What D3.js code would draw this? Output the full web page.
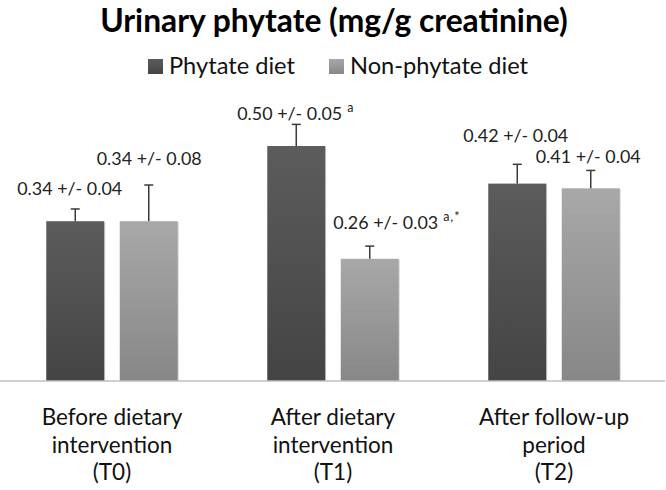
<!DOCTYPE html>
<html>
<head>
<meta charset="utf-8">
<script src="https://cdn.jsdelivr.net/npm/d3@7"></script>
<style>
  html, body { margin: 0; padding: 0; background: #fff; }
  svg { display: block; }
  text { font-family: Lato, "Open Sans", sans-serif; }
</style>
</head>
<body>
<svg id="chart" width="666" height="490"></svg>
<script>
// ---- data ----
const categories = [
  ["Before dietary", "intervention", "(T0)"],
  ["After dietary", "intervention", "(T1)"],
  ["After follow-up", "period", "(T2)"]
];
const seriesNames = ["Phytate diet", "Non-phytate diet"];
const phytateValues = [0.34, 0.50, 0.42];
const nonPhytateValues = [0.34, 0.26, 0.41];
const phytateErrors = [0.026, 0.046, 0.041];
const nonPhytateErrors = [0.077, 0.027, 0.038];
const phytateLabels = ["0.34 +/- 0.04", "0.50 +/- 0.05", "0.42 +/- 0.04"];
const nonPhytateLabels = ["0.34 +/- 0.08", "0.26 +/- 0.03", "0.41 +/- 0.04"];
const phytateSup = ["", "a", ""];
const nonPhytateSup = ["", "a,*", ""];
const yDomain = [0, 0.6];

// ---- layout (not data) ----
const baseY = 381, topY = 99;
const labelOffsets = [
  [[-58, 14], [-52, 20]],
  [[-59, 4], [-36.5, 17.5]],
  [[-54, 22.5], [-55, 7.5]]
];
const fills = ["dark", "light"];

const svg = d3.select("#chart");
const defs = svg.append("defs");
function grad(id, c1, c2) {
  const g = defs.append("linearGradient").attr("id", id)
    .attr("x1", 0).attr("y1", 0).attr("x2", 0).attr("y2", 1);
  g.append("stop").attr("offset", "0%").attr("stop-color", c1);
  g.append("stop").attr("offset", "100%").attr("stop-color", c2);
}
grad("dark", "#5c5c5c", "#444444");
grad("light", "#a8a8a8", "#878787");

function fitSize(str, target, weight) {
  const t = svg.append("text").attr("font-size", 20).attr("font-weight", weight || 400).text(str);
  const w = t.node().getComputedTextLength();
  t.remove();
  return 20 * target / w;
}
const titleSize = fitSize("Urinary phytate (mg/g creatinine)", 468, 700);
const legendSize = fitSize("Phytate diet", 126);
const catSize = Math.min(fitSize("Before dietary", 147), 22.5);
const labelSize = fitSize("0.34 +/- 0.08", 105);

const series = [
  { name: seriesNames[0], values: phytateValues, errors: phytateErrors, labels: phytateLabels, sup: phytateSup },
  { name: seriesNames[1], values: nonPhytateValues, errors: nonPhytateErrors, labels: nonPhytateLabels, sup: nonPhytateSup }
];

const x0 = d3.scaleBand().domain(d3.range(categories.length)).range([1.5, 664.5]);
const x1 = d3.scaleBand().domain(d3.range(series.length)).range([0, x0.bandwidth()])
  .paddingInner(0.211).paddingOuter(0.609);
const y = d3.scaleLinear().domain(yDomain).range([baseY, topY]);

// title
svg.append("text")
  .attr("x", 334).attr("y", 32)
  .attr("text-anchor", "middle")
  .attr("font-size", titleSize).attr("font-weight", 700)
  .attr("fill", "#000")
  .text("Urinary phytate (mg/g creatinine)");

// legend
const legendX = [148, 329];
series.forEach((s, i) => {
  const g = svg.append("g").attr("transform", `translate(${legendX[i]},59)`);
  g.append("rect").attr("width", 15).attr("height", 15).attr("fill", `url(#${fills[i]})`);
  g.append("text").attr("x", 21).attr("y", 14.5)
    .attr("font-size", legendSize).attr("fill", "#111").text(s.name);
});

// bars
const groups = svg.append("g").selectAll("g")
  .data(categories.map((c, ci) => ci))
  .join("g")
  .attr("transform", ci => `translate(${x0(ci)},0)`);

groups.each(function (ci) {
  const g = d3.select(this);
  series.forEach((s, si) => {
    const v = s.values[ci], e = s.errors[ci];
    const bx = x1(si), bw = x1.bandwidth();
    g.append("rect")
      .attr("x", bx + 1).attr("y", y(v) + 1)
      .attr("width", bw).attr("height", baseY - y(v) - 1)
      .attr("fill", "#d9d9d9");
    g.append("rect")
      .attr("x", bx).attr("y", y(v))
      .attr("width", bw).attr("height", baseY - y(v))
      .attr("fill", `url(#${fills[si]})`);
    const cx = bx + bw / 2;
    g.append("line").attr("x1", cx).attr("x2", cx)
      .attr("y1", y(v)).attr("y2", y(v + e))
      .attr("stroke", "#3a3a3a").attr("stroke-width", 1.5);
    g.append("line").attr("x1", cx - 4.5).attr("x2", cx + 4.5)
      .attr("y1", y(v + e)).attr("y2", y(v + e))
      .attr("stroke", "#3a3a3a").attr("stroke-width", 1.5);
    const off = labelOffsets[ci][si];
    const t = g.append("text")
      .attr("x", cx + off[0]).attr("y", y(v + e) - off[1])
      .attr("font-size", labelSize).attr("fill", "#222");
    t.append("tspan").text(s.labels[ci]);
    if (s.sup[ci]) {
      t.append("tspan").attr("dx", 5).attr("dy", -8)
        .attr("font-size", labelSize * 0.7).attr("letter-spacing", 1).text(s.sup[ci]);
    }
  });
});

// baseline axis
const xAxis = d3.axisBottom(x0).tickSize(0).tickFormat("");
const ax = svg.append("g").attr("transform", `translate(0,${baseY})`).call(xAxis);
ax.select(".domain").attr("stroke", "#bfbfbf").attr("stroke-width", 1.5)
  .attr("d", "M0,0H665");

// category labels
categories.forEach((lines, ci) => {
  const cx = x0(ci) + x0.bandwidth() / 2;
  const t = svg.append("text")
    .attr("x", cx)
    .attr("text-anchor", "middle")
    .attr("font-size", catSize).attr("fill", "#111");
  lines.forEach((ln, li) => {
    t.append("tspan").attr("x", cx).attr("y", 425 + li * 27.5).text(ln);
  });
});
</script>
</body>
</html>
